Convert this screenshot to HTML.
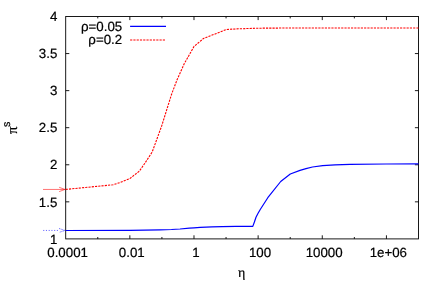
<!DOCTYPE html>
<html><head><meta charset="utf-8"><title>plot</title>
<style>
html,body{margin:0;padding:0;background:#fff;overflow:hidden;}
svg text{stroke:#000;stroke-width:0.2px;}
svg{display:block;font-family:"Liberation Sans",sans-serif;font-size:13.3px;fill:#000;will-change:transform;text-rendering:geometricPrecision;}
</style></head>
<body>
<svg width="443" height="282" viewBox="0 0 443 282">
<rect x="0" y="0" width="443" height="282" fill="#fff"/>
<rect x="65.7" y="16.5" width="352.80" height="222.40" fill="none" stroke="#000" stroke-width="0.9"/>
<path d="M97.77 238.9 v-1.9 M97.77 16.5 v1.9 M129.85 238.9 v-3.6 M129.85 16.5 v3.6 M161.92 238.9 v-1.9 M161.92 16.5 v1.9 M193.99 238.9 v-3.6 M193.99 16.5 v3.6 M226.06 238.9 v-1.9 M226.06 16.5 v1.9 M258.14 238.9 v-3.6 M258.14 16.5 v3.6 M290.21 238.9 v-1.9 M290.21 16.5 v1.9 M322.28 238.9 v-3.6 M322.28 16.5 v3.6 M354.35 238.9 v-1.9 M354.35 16.5 v1.9 M386.43 238.9 v-3.6 M386.43 16.5 v3.6 M65.7 201.83 h3.6 M418.5 201.83 h-3.6 M65.7 164.77 h3.6 M418.5 164.77 h-3.6 M65.7 127.70 h3.6 M418.5 127.70 h-3.6 M65.7 90.63 h3.6 M418.5 90.63 h-3.6 M65.7 53.57 h3.6 M418.5 53.57 h-3.6" stroke="#000" stroke-width="0.9" fill="none"/>
<text x="67.60" y="257" text-anchor="middle">0.0001</text>
<text x="131.75" y="257" text-anchor="middle">0.01</text>
<text x="195.89" y="257" text-anchor="middle">1</text>
<text x="260.04" y="257" text-anchor="middle">100</text>
<text x="324.18" y="257" text-anchor="middle">10000</text>
<text x="388.33" y="257" text-anchor="middle">1e+06</text>
<text x="57.3" y="243.72" text-anchor="end">1</text>
<text x="57.3" y="206.58" text-anchor="end">1.5</text>
<text x="57.3" y="169.44" text-anchor="end">2</text>
<text x="57.3" y="132.30" text-anchor="end">2.5</text>
<text x="57.3" y="95.16" text-anchor="end">3</text>
<text x="57.3" y="58.02" text-anchor="end">3.5</text>
<text x="57.3" y="20.95" text-anchor="end">4</text>
<polyline points="65.70,230.50 130.00,230.30 160.00,229.90 171.50,229.50 180.00,229.00 189.40,228.15 194.00,227.80 200.20,227.40 212.00,226.90 222.00,226.55 236.00,226.40 252.80,226.35 254.40,222.00 256.00,217.30 258.20,213.00 260.40,209.20 267.80,197.70 280.70,181.50 290.30,174.00 300.00,170.40 306.00,168.60 312.50,167.00 322.70,165.65 335.00,164.90 350.00,164.40 386.00,164.00 418.50,163.90" fill="none" stroke="#0000ff" stroke-width="1.2" stroke-linejoin="round"/>
<polyline points="65.70,189.40 113.00,184.80 120.10,182.50 129.80,178.60 139.30,171.20 145.10,162.90 152.20,152.00 161.80,125.60 171.50,94.50 177.20,79.40 184.30,63.60 194.00,46.50 203.60,38.40 209.30,36.20 216.40,33.50 226.10,29.60 236.00,28.90 258.20,28.20 290.00,28.00 418.50,27.95" fill="none" stroke="#ff0000" stroke-width="1.1" stroke-dasharray="2.18 1.09" stroke-linejoin="round"/>
<text x="122.2" y="31.3" text-anchor="end">ρ=0.05</text>
<text x="122.2" y="44.2" text-anchor="end">ρ=0.2</text>
<path d="M130.1 26.45 H166" stroke="#0000ff" stroke-width="1.2" fill="none"/>
<path d="M130.1 39.95 H166" stroke="#ff0000" stroke-width="1.1" stroke-dasharray="2.18 1.09" fill="none"/>
<path d="M43.0 189.45 H64.9 M59.1 187.25 L64.9 189.45 L59.1 191.65" stroke="#ff0000" stroke-width="0.55" fill="none"/>
<path d="M43.2 230.45 H59.5" stroke="#0000ff" stroke-width="0.6" stroke-dasharray="1.1 1.63" fill="none"/>
<path d="M59.1 228.5 L64.9 230.45 L59.1 232.4" stroke="#0000ff" stroke-width="0.6" stroke-dasharray="1.4 1.0" fill="none"/>
<text x="238.1" y="276.7" font-family="&quot;Liberation Serif&quot;, serif" font-size="14" stroke="#000" stroke-width="0.25">η</text>
<g transform="translate(17.2,134.0) rotate(-90)"><text x="0" y="0" font-family="&quot;Liberation Serif&quot;, serif" font-size="14.9" stroke="#000" stroke-width="0.2">π</text><text x="6.9" y="-7.2" font-size="10.8">s</text></g>
</svg>
</body></html>
